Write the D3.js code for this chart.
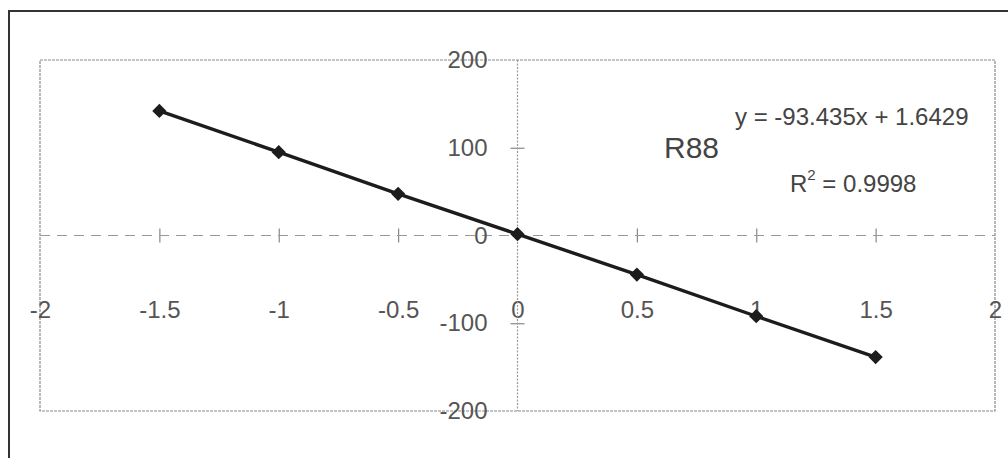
<!DOCTYPE html>
<html>
<head>
<meta charset="utf-8">
<script src="https://cdn.jsdelivr.net/npm/d3@7"></script>
<style>
  html, body { margin: 0; padding: 0; background: #fff; }
  svg { display: block; }
  text { font-family: "Liberation Sans", Arial, sans-serif; }
</style>
</head>
<body>
<svg id="chart" width="1008" height="458"></svg>
<script>
// Calibration points for sensor R88
const xValues = [-1.5, -1, -0.5, 0, 0.5, 1, 1.5];
const yValues = [142, 95, 47.5, 1.5, -44.5, -92, -138.5];
const xTicks = [-2, -1.5, -1, -0.5, 0, 0.5, 1, 1.5, 2];
const yTicks = [-200, -100, 0, 100, 200];
const seriesName = "R88";
const equationText = "y = -93.435x + 1.6429";
const r2Value = "0.9998";

const svg = d3.select("#chart");
const W = 1008, H = 458;
const plot = { left: 40, right: 995, top: 60, bottom: 411 };

const x = d3.scaleLinear().domain([-2, 2]).range([plot.left, plot.right]);
const y = d3.scaleLinear().domain([-200, 200]).range([plot.bottom, plot.top]);

// Plain hyphen-minus labels
const fmt = d => String(d);

// Outer chart frame (runs past the right and bottom edges)
svg.append("rect")
  .attr("x", 9).attr("y", 11)
  .attr("width", W + 10).attr("height", H + 10)
  .attr("fill", "none").attr("stroke", "#333").attr("stroke-width", 2);

// Plot area frame
svg.append("rect")
  .attr("x", plot.left).attr("y", plot.top)
  .attr("width", plot.right - plot.left).attr("height", plot.bottom - plot.top)
  .attr("fill", "none").attr("stroke", "#8a8a8a").attr("stroke-width", 1.2)
  .attr("stroke-dasharray", "3,1");

const labelColor = "#555";
const tickLen = 7;

// Horizontal axis through y = 0
const gx = svg.append("g")
  .attr("transform", `translate(0,${y(0)})`)
  .call(d3.axisBottom(x).tickValues(xTicks).tickSize(0).tickPadding(65)
    .tickFormat(fmt));
gx.select(".domain").remove();
gx.append("line")
  .attr("x1", plot.left).attr("x2", plot.right)
  .attr("stroke", "#999").attr("stroke-width", 1.2)
  .attr("stroke-dasharray", "10,7");
gx.selectAll(".tick").filter(d => d !== 0 && Math.abs(d) !== 2)
  .append("line").attr("y1", -tickLen).attr("y2", tickLen)
  .attr("stroke", "#888").attr("stroke-width", 1.2);
gx.selectAll(".tick text")
  .attr("fill", labelColor).attr("font-size", 24)
  .attr("font-family", "Liberation Sans, Arial, sans-serif");

// Vertical axis through x = 0
const gy = svg.append("g")
  .attr("transform", `translate(${x(0)},0)`)
  .call(d3.axisLeft(y).tickValues(yTicks).tickSize(0).tickPadding(30)
    .tickFormat(fmt));
gy.select(".domain").remove();
gy.append("line")
  .attr("y1", plot.top).attr("y2", plot.bottom)
  .attr("stroke", "#999").attr("stroke-width", 1.2)
  .attr("stroke-dasharray", "2,1.5");
gy.selectAll(".tick").filter(d => Math.abs(d) !== 200 && d !== 0)
  .append("line").attr("x1", -tickLen).attr("x2", tickLen)
  .attr("stroke", "#888").attr("stroke-width", 1.2);
gy.selectAll(".tick text")
  .attr("fill", labelColor).attr("font-size", 24)
  .attr("font-family", "Liberation Sans, Arial, sans-serif");

// Series line and diamond markers
const pts = xValues.map((v, i) => [v, yValues[i]]);
svg.append("path")
  .datum(pts)
  .attr("d", d3.line().x(d => x(d[0])).y(d => y(d[1])))
  .attr("fill", "none").attr("stroke", "#1c1c1c").attr("stroke-width", 3.4);

svg.append("g").selectAll("path")
  .data(pts).join("path")
  .attr("transform", d => `translate(${x(d[0])},${y(d[1])})`)
  .attr("d", d3.symbol(d3.symbolDiamond2, 130))
  .attr("fill", "#1c1c1c");

// Annotations
svg.append("text")
  .attr("x", 735).attr("y", 125)
  .attr("font-size", 24).attr("fill", "#444")
  .text(equationText);

svg.append("text")
  .attr("x", 664).attr("y", 158)
  .attr("font-size", 30).attr("fill", "#444")
  .text(seriesName);

const r2 = svg.append("text")
  .attr("x", 790).attr("y", 192)
  .attr("font-size", 24).attr("fill", "#444");
r2.append("tspan").text("R");
r2.append("tspan").attr("font-size", 15).attr("dy", -12).text("2");
r2.append("tspan").attr("dy", 12).text(" = " + r2Value);
</script>
</body>
</html>
